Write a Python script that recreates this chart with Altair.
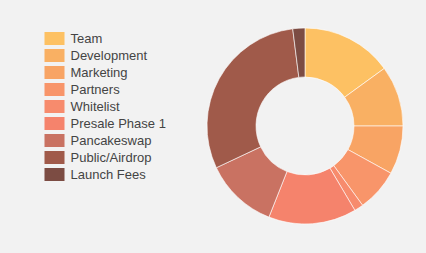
import altair as alt
import pandas as pd

# Token allocation (percent of supply)
categories = ["Team", "Development", "Marketing", "Partners", "Whitelist",
              "Presale Phase 1", "Pancakeswap", "Public/Airdrop", "Launch Fees"]
shares = [15, 10, 8, 7, 1.5, 14.5, 12, 30, 2]
palette = ["#fdc163", "#f9b063", "#f8a464", "#f8956a", "#f78b6d",
           "#f5836c", "#c97262", "#a05a4a", "#7c4c43"]

df = pd.DataFrame({"category": categories, "share": shares,
                   "order": list(range(len(categories)))})

chart = alt.Chart(df).mark_arc(
    outerRadius=98, innerRadius=49, stroke="#ffffff", strokeWidth=0.6
).encode(
    x=alt.value(305),
    y=alt.value(126),
    theta=alt.Theta("share:Q", stack=True),
    order=alt.Order("order:Q"),
    color=alt.Color(
        "category:N",
        scale=alt.Scale(domain=categories, range=palette),
        sort=categories,
        legend=alt.Legend(
            title=None,
            orient="none",
            legendX=48,
            legendY=32,
            symbolType="M-1.54,-1L1.54,-1L1.54,1L-1.54,1Z",
            symbolSize=169,
            symbolStrokeWidth=0,
            symbolOpacity=1,
            rowPadding=3,
            labelFont="Liberation Sans",
            labelFontSize=13,
            labelColor="#444444",
            labelOffset=9.5,
            padding=0,
        ),
    ),
).properties(
    width=426, height=253, background="#f2f2f2",
    autosize=alt.AutoSizeParams(type="none"), padding=0,
).configure_view(stroke=None)

chart.save("out.html", embed_options={"renderer": "svg", "actions": False})
